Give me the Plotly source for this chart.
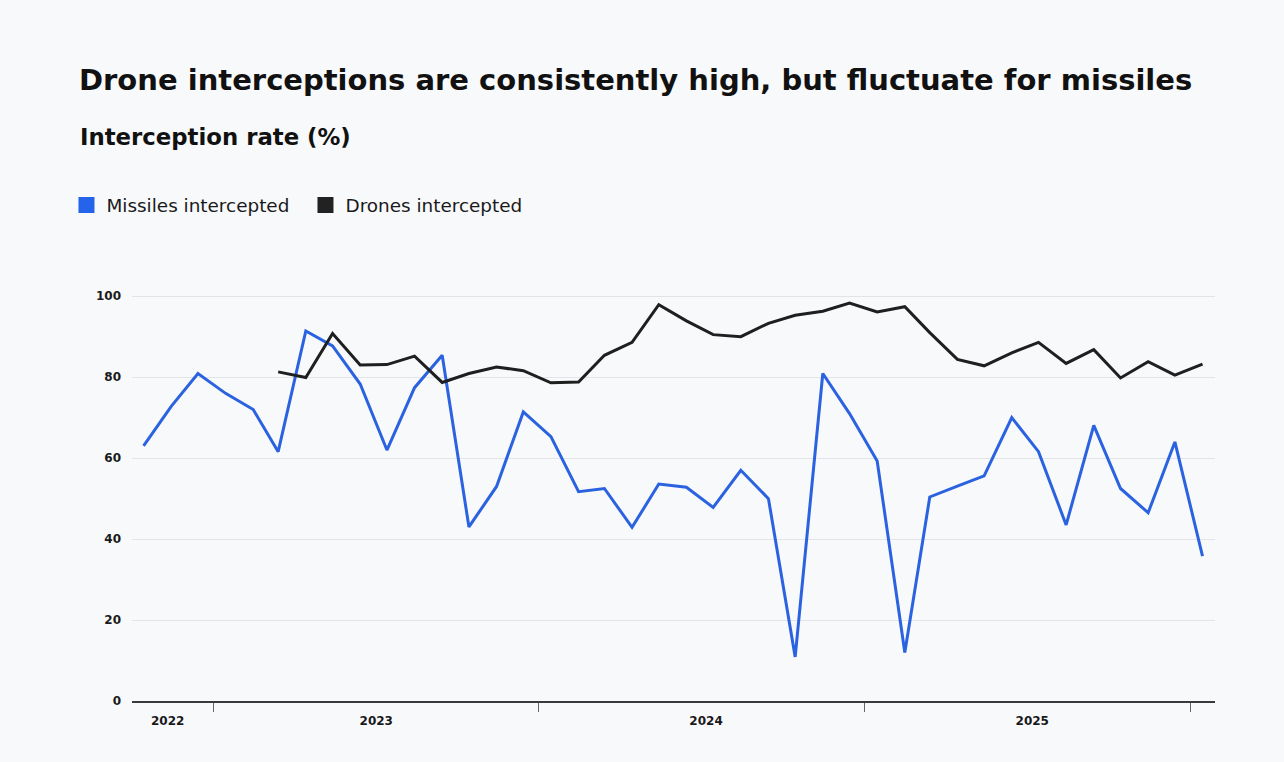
import pandas as pd
import plotly.graph_objects as go

# ---- data (monthly interception rates, %) ----
months = pd.date_range("2022-10-01", periods=40, freq="MS") + pd.Timedelta(days=14)

missiles = [63.0, 72.8, 80.9, 76.0, 72.0, 61.6, 91.4, 87.7, 78.3, 62.0,
            77.4, 85.4, 43.0, 53.0, 71.4, 65.3, 51.7, 52.5, 42.9, 53.6,
            52.8, 47.8, 57.0, 50.0, 10.9, 80.9, 71.0, 59.3, 12.0, 50.4,
            53.1, 55.6, 70.0, 61.6, 43.5, 68.1, 52.5, 46.5, 64.0, 35.8]

drones = [None] * 5 + [
    81.3, 79.9, 90.8, 83.0, 83.1, 85.2, 78.7, 80.9, 82.5, 81.6,
    78.6, 78.8, 85.4, 88.6, 97.9, 93.9, 90.5, 90.0, 93.3, 95.3,
    96.3, 98.3, 96.1, 97.4, 91.0, 84.4, 82.8, 86.0, 88.6, 83.4,
    86.8, 79.8, 83.8, 80.5, 83.2]

year_labels = ["2022", "2023", "2024", "2025"]
year_label_dates = ["2022-11-11", "2023-07-03", "2024-07-07", "2025-07-08"]
year_boundaries = ["2023-01-01", "2024-01-01", "2025-01-01", "2026-01-01"]
y_ticks = [0, 20, 40, 60, 80, 100]

series_names = ["Missiles intercepted", "Drones intercepted"]
BLUE = "#2a62e0"
BLACK = "#1f1f1f"
BG = "#f8f9fb"
FONT = "DejaVu Sans"

fig = go.Figure()
fig.add_trace(go.Scatter(x=months, y=missiles, mode="lines", name=series_names[0],
                         line=dict(color=BLUE, width=3), showlegend=False))
fig.add_trace(go.Scatter(x=months, y=drones, mode="lines", name=series_names[1],
                         line=dict(color=BLACK, width=3), showlegend=False))
# legend entries as squares
for name, col in zip(series_names, ["#2563eb", "#222222"]):
    fig.add_trace(go.Scatter(x=[None], y=[None], mode="markers", name=name,
                             marker=dict(symbol="square", size=18, color=col)))

fig.update_layout(
    width=1284, height=762,
    paper_bgcolor=BG, plot_bgcolor=BG,
    margin=dict(l=132, r=69, t=280, b=61),
    font=dict(family=FONT, color="#1a1a1a"),
    title=dict(text="Drone interceptions are consistently high, but fluctuate for missiles",
               x=79 / 1284, xref="container", xanchor="left",
               y=1 - 80 / 762, yref="container", yanchor="middle",
               font=dict(family=FONT, size=29, weight=700, color="#111111")),
    legend=dict(orientation="h", x=-0.0605, xanchor="left", y=1.178, yanchor="middle",
                entrywidth=194, entrywidthmode="pixels",
                font=dict(family=FONT, size=18.4, color="#1a1a1a"),
                bgcolor="rgba(0,0,0,0)", itemclick=False, itemdoubleclick=False),
    showlegend=True,
    hovermode=False,
)

fig.add_annotation(text="Interception rate (%)", xref="paper", yref="paper",
                   x=(78 - 132) / 1083, y=(701 - 137) / 421, xanchor="left", yanchor="middle",
                   showarrow=False, font=dict(family=FONT, size=22.8, weight=700, color="#111111"))

fig.update_xaxes(
    type="date", range=["2022-10-02", "2026-01-29"],
    tickmode="array", tickvals=year_label_dates, ticktext=year_labels,
    ticks="", showgrid=False, zeroline=False,
    showline=True, linecolor="#3a3a3a", linewidth=1.5,
    tickfont=dict(family=FONT, size=12, weight=700, color="#1a1a1a"),
    ticklabelstandoff=8,
    minor=dict(tickmode="array", tickvals=year_boundaries, ticks="outside",
               ticklen=9, tickwidth=1, tickcolor="#666666", showgrid=False),
)
fig.update_yaxes(
    range=[0, 104], tickmode="array", tickvals=y_ticks,
    showgrid=True, gridcolor="#e2e4e8", gridwidth=1, zeroline=False,
    showline=False, ticks="",
    tickfont=dict(family=FONT, size=12, weight=700, color="#1a1a1a"),
    ticklabelstandoff=10,
)

fig.write_html("out.html", config={"displayModeBar": False},
               post_script="document.body.style.margin='0';document.body.style.background='%s';" % BG)
